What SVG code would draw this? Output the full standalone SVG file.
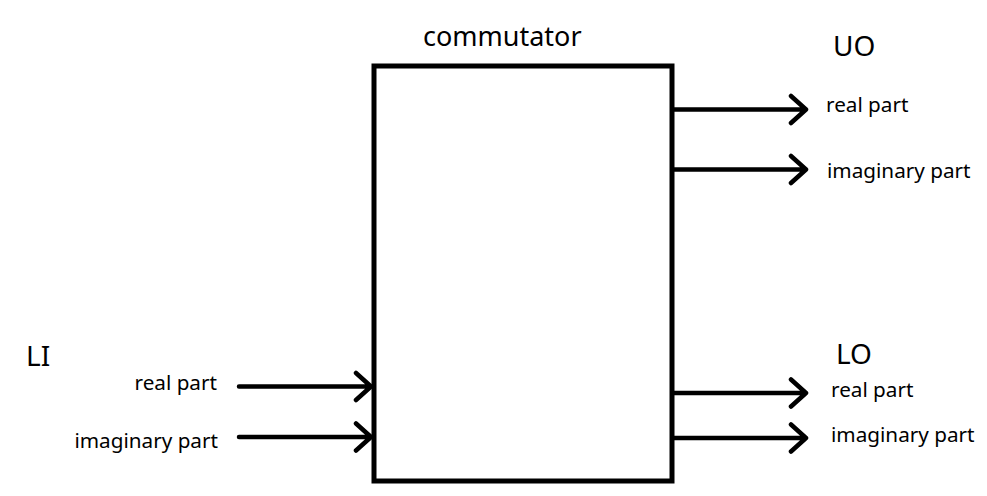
<svg xmlns="http://www.w3.org/2000/svg" width="987" height="496" viewBox="0 0 987 496">
<style>
text{font-family:"Noto Sans","Open Sans",sans-serif;fill:#000}
.big{font-size:28px}
.mid{font-size:27px}
.sm{font-size:20.7px}
.ln{stroke:#000;stroke-width:4.5;fill:none;stroke-linecap:round;stroke-linejoin:round}
</style>
<rect width="987" height="496" fill="#fff"/>
<g id="commutator">
<rect x="374" y="66" width="298" height="415" fill="#fff" stroke="#000" stroke-width="5"/>
<text class="mid" x="423" y="46">commutator</text>
</g>
<g id="UO">
<text class="big" x="833" y="56">UO</text>
<text class="sm" x="826" y="112">real part</text>
<text class="sm" x="827" y="178">imaginary part</text>
</g>
<g id="LO">
<text class="big" x="836" y="364">LO</text>
<text class="sm" x="831" y="397">real part</text>
<text class="sm" x="831" y="442">imaginary part</text>
</g>
<g id="LI">
<text class="big" x="26" y="366">LI</text>
<text class="sm" x="217" y="390" text-anchor="end">real part</text>
<text class="sm" x="218" y="448" text-anchor="end">imaginary part</text>
</g>
<g id="connectors" class="ln">
<path d="M674 109.5H806M791 96L806 109.5L791 123"/>
<path d="M674 169.5H806M791 156L806 169.5L791 183"/>
<path d="M674 393H806M791 379.5L806 393L791 406.5"/>
<path d="M674 438H806M791 424.5L806 438L791 451.5"/>
<path d="M239 386.5H371M356 373L371 386.5L356 400"/>
<path d="M239 437H371M356 423.5L371 437L356 450.5"/>
</g>
</svg>
